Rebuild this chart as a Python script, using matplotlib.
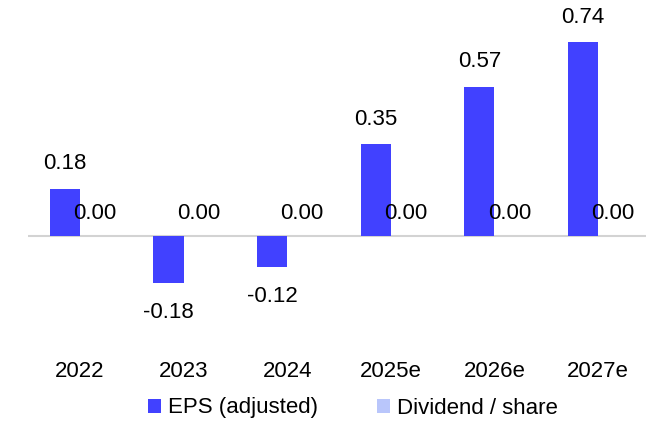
import matplotlib.pyplot as plt
import numpy as np

plt.rcParams['font.family'] = ['Liberation Sans', 'DejaVu Sans']

# chart data
years = ['2022', '2023', '2024', '2025e', '2026e', '2027e']
eps = [0.18, -0.18, -0.12, 0.35, 0.57, 0.74]
dividend = [0.00, 0.00, 0.00, 0.00, 0.00, 0.00]

eps_color = '#4141FF'
div_color = '#B9C6FB'

fig = plt.figure(figsize=(6.46, 4.21), dpi=100)
ax = fig.add_axes([28 / 646, 81 / 421, 622 / 646, 340 / 421])

x = np.arange(len(years))
w = 0.29
bars_eps = ax.bar(x - w / 2, eps, w, color=eps_color, label='EPS (adjusted)')
bars_div = ax.bar(x + w / 2, dividend, w, color=div_color, label='Dividend / share')

ax.axhline(0, color='#D3D3D3', lw=1.5, zorder=0)

fs = 16
for b, v in zip(bars_eps, eps):
    off = 18 if v >= 0 else -21
    ax.annotate(f'{v:.2f}', (b.get_x() + b.get_width() / 2, v),
                xytext=(0, off), textcoords='offset points',
                ha='center', va='center', fontsize=fs)
for b, v in zip(bars_div, dividend):
    ax.annotate(f'{v:.2f}', (b.get_x() + b.get_width() / 2, v),
                xytext=(0, 16.5), textcoords='offset points',
                ha='center', va='center', fontsize=fs)

ax.set_xlim(-0.5, len(years) - 0.5)
ax.set_ylim(-0.397, 0.901)
ax.set_xticks(x)
ax.set_xticklabels(years, fontsize=fs)
ax.tick_params(axis='x', length=0, pad=15)
ax.set_yticks([])
for s in ax.spines.values():
    s.set_visible(False)

fig.legend(loc='center left', bbox_to_anchor=(148 / 646, 13 / 421), ncol=2,
           frameon=False, fontsize=fs, handlelength=0.6, handleheight=0.6,
           handletextpad=0.3, columnspacing=2.65, borderpad=0, borderaxespad=0)

fig.savefig('out.png', dpi=100)
